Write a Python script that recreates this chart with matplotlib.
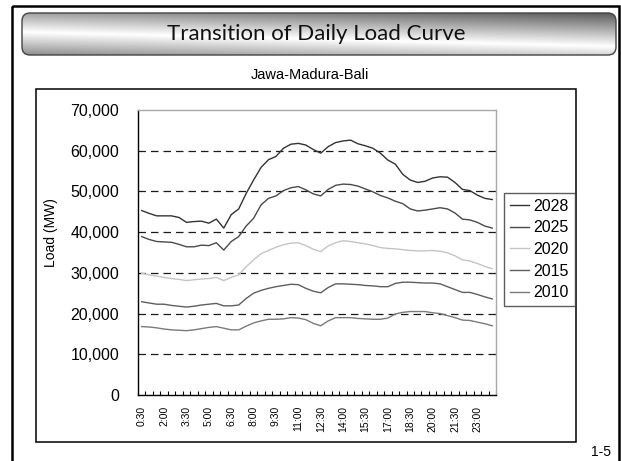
import matplotlib

matplotlib.use("Agg")

import matplotlib.pyplot as plt
import numpy as np
from matplotlib.patches import FancyBboxPatch, Rectangle

W, H = 621, 461

# half-hourly load, MW (0:30 ... 24:00)
load_2028 = [45300, 44600, 44000, 44000, 44000, 43600, 42400, 42600, 42700, 42200, 43200, 41000,
             44300, 45700, 49500, 52800, 55900, 57800, 58600, 60600, 61600, 61800, 61400, 60300,
             59400, 61000, 62000, 62400, 62600, 61700, 61200, 60600, 59400, 57700, 56700, 54200,
             52800, 52200, 52500, 53300, 53600, 53500, 52200, 50500, 50200, 49100, 48300, 48000]
load_2025 = [38900, 38200, 37700, 37600, 37500, 37000, 36400, 36400, 36800, 36700, 37400, 35600,
             37700, 38900, 41500, 43400, 46700, 48300, 48900, 50200, 50900, 51200, 50400, 49400,
             48900, 50500, 51500, 51800, 51700, 51300, 50600, 49900, 49000, 48400, 47600, 47000,
             45700, 45200, 45400, 45700, 46000, 45700, 44700, 43200, 43000, 42400, 41500, 41000]
load_2020 = [29900, 29500, 29200, 28900, 28600, 28400, 28100, 28300, 28500, 28600, 28900, 28100,
             28900, 29500, 31500, 33200, 34700, 35500, 36300, 36900, 37300, 37400, 36700, 35800,
             35200, 36600, 37400, 37900, 37700, 37400, 37100, 36700, 36200, 36000, 35900, 35700,
             35500, 35400, 35400, 35500, 35300, 34900, 34200, 33200, 32900, 32300, 31600, 31000]
load_2015 = [22900, 22600, 22300, 22300, 22000, 21800, 21600, 21800, 22100, 22300, 22500, 21900,
             21900, 22100, 23700, 25000, 25700, 26200, 26600, 26900, 27200, 27100, 26200, 25500,
             25100, 26400, 27300, 27300, 27200, 27100, 26900, 26800, 26600, 26600, 27400, 27700,
             27700, 27600, 27500, 27500, 27300, 26600, 25900, 25200, 25200, 24700, 24100, 23600]
load_2010 = [16800, 16700, 16500, 16200, 16000, 15900, 15800, 16000, 16300, 16600, 16800, 16400,
             16000, 16000, 16900, 17700, 18200, 18600, 18600, 18700, 19000, 18900, 18500, 17600,
             17000, 18200, 19000, 19000, 19000, 18800, 18700, 18600, 18600, 18900, 19900, 20300,
             20500, 20500, 20500, 20200, 20000, 19500, 19000, 18400, 18300, 17900, 17500, 17000]

series = [("2028", load_2028, "#333333"),
          ("2025", load_2025, "#4a4a4a"),
          ("2020", load_2020, "#c4c4c4"),
          ("2015", load_2015, "#5e5e5e"),
          ("2010", load_2010, "#7a7a7a")]

x_labels = ["0:30", "2:00", "3:30", "5:00", "6:30", "8:00", "9:30", "11:00",
            "12:30", "14:00", "15:30", "17:00", "18:30", "20:00", "21:30", "23:00"]
y_ticks = [0, 10000, 20000, 30000, 40000, 50000, 60000, 70000]

FONT = ["Liberation Sans", "DejaVu Sans"]
plt.rcParams["font.family"] = FONT

fig = plt.figure(figsize=(W / 100, H / 100), dpi=100)

# slide background in pixel coordinates
bg = fig.add_axes([0, 0, 1, 1])
bg.set_axis_off()

box = FancyBboxPatch((22, 13), 594, 42, boxstyle="round,pad=0,rounding_size=8",
                     facecolor="none", edgecolor="#444444", linewidth=1.0, zorder=3)
bg.add_patch(box)
gx, gy = np.meshgrid(np.linspace(0, 1, 300), np.linspace(0, 1, 60))
band = 0.45 + 0.35 * gx
shade = 1 - 0.8 * np.abs(gy - band)
grad = bg.imshow(shade, extent=[22, 616, 55, 13], cmap="gray", vmin=0, vmax=1,
                 aspect="auto", zorder=2, interpolation="bilinear")
grad.set_clip_path(box)

bg.add_patch(Rectangle((11.5, 6.5), 607.5, 480, facecolor="none", edgecolor="black", linewidth=1.8))
bg.add_patch(Rectangle((36, 89.5), 540, 352.5, facecolor="none", edgecolor="black", linewidth=1.1))
bg.set_xlim(0, W)
bg.set_ylim(H, 0)

bg.text(316, 34, "Transition of Daily Load Curve", ha="center", va="center",
        fontsize=16, color="#111111", family=["Lato", "DejaVu Sans"], zorder=4)
bg.text(310, 75, "Jawa-Madura-Bali", ha="center", va="center", fontsize=10.5, color="black")
bg.text(601, 452, "1-5", ha="center", va="center", fontsize=10, color="black")

# chart
ax = fig.add_axes([138 / W, (H - 395) / H, 358 / W, 285 / H])
ax.set_facecolor("none")
x = np.arange(len(load_2028)) + 0.5
for name, vals, color in series:
    ax.plot(x, vals, color=color, linewidth=1.0, label=name, zorder=3)

for v in y_ticks[1:-1]:
    ax.axhline(v, color="#1a1a1a", linewidth=0.9, linestyle=(0, (6, 4)), zorder=1)

ax.set_xlim(0, len(load_2028))
ax.set_ylim(y_ticks[0], y_ticks[-1])
ax.set_yticks(y_ticks)
ax.set_yticklabels([f"{v:,}" for v in y_ticks], fontsize=11.5)
ax.tick_params(axis="y", length=0, pad=13.5)

ax.set_xticks(x[::3])
ax.set_xticklabels(x_labels, rotation=90, fontsize=7.5)
ax.set_xticks(np.arange(len(load_2028) + 1), minor=True)
ax.tick_params(axis="x", which="major", length=0, pad=8)
ax.tick_params(axis="x", which="minor", direction="in", length=3, width=0.8, color="black")

ax.spines["left"].set_color("black")
ax.spines["bottom"].set_color("black")
ax.spines["top"].set_color("#a8a8a8")
ax.spines["right"].set_color("#a8a8a8")
for s in ax.spines.values():
    s.set_linewidth(1.0)

ax.set_ylabel("Load (MW)", fontsize=10)
ax.yaxis.set_label_coords(-0.223, 0.57)

leg = ax.legend(loc="upper left", bbox_to_anchor=(504 / W, 1 - 193 / H), bbox_transform=fig.transFigure,
                frameon=True, fancybox=False, edgecolor="#333333", fontsize=11.5,
                handlelength=1.2, handletextpad=0.3, labelspacing=0.42, borderpad=0.35, borderaxespad=0)
leg.get_frame().set_linewidth(1.0)

fig.savefig("out.png", dpi=100)
